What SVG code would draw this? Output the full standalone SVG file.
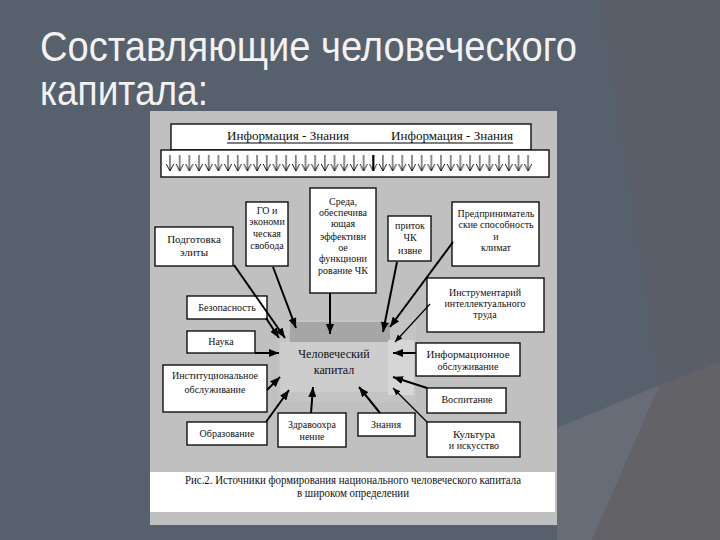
<svg xmlns="http://www.w3.org/2000/svg" width="720" height="540" viewBox="0 0 720 540">
<style>
.t{font-family:"Liberation Serif","Times New Roman","DejaVu Serif",serif;font-size:10px;fill:#111;text-anchor:middle}
.big{font-size:11px}
.cap{font-size:12px}
.box{fill:#fff;stroke:#000;stroke-width:1.3}
.c{stroke:#000;stroke-width:2;fill:none}
.thin{stroke:#000;stroke-width:1.2;fill:none}
.title{font-family:"Liberation Sans Narrow","Liberation Sans",Arial,sans-serif;font-size:42px;fill:#f2f2f2}
</style>
<defs>
<marker id="ah" viewBox="0 0 10 8" refX="10" refY="4" markerWidth="10" markerHeight="8" markerUnits="userSpaceOnUse" orient="auto">
<path d="M0,0 L10,4 L0,8 Z" fill="#000"/>
</marker>
<marker id="ahs" viewBox="0 0 10 8" refX="10" refY="4" markerWidth="8" markerHeight="6" markerUnits="userSpaceOnUse" orient="auto">
<path d="M0,0 L10,4 L0,8 Z" fill="#000"/>
</marker>
<pattern id="arr" patternUnits="userSpaceOnUse" x="165.2" y="150" width="9.68" height="27">
<path d="M4.8 5 V21 M1.2 14 L4.8 21 L8.4 14" stroke="#000" stroke-width="0.9" fill="none"/>
</pattern>
</defs>
<!-- slide background -->
<rect x="0" y="0" width="720" height="540" fill="#57606d"/>
<polygon points="600,0 720,0 720,362 660,385" fill="#595e68"/>
<polygon points="557,428 660,385 592,540 557,540" fill="#686c77"/>
<polygon points="660,385 720,362 720,540 592,540" fill="#636267"/>
<text class="title" x="40" y="61" textLength="537" lengthAdjust="spacingAndGlyphs">Составляющие человеческого</text>
<text class="title" x="40" y="105" textLength="168" lengthAdjust="spacingAndGlyphs">капитала:</text>
<!-- picture -->
<rect x="150" y="111" width="407" height="414" fill="#c0c0c0"/>
<rect x="150" y="472" width="405" height="40" fill="#fff"/>
<g id="center">
<rect x="278" y="320" width="138" height="82" fill="#c4c4c4"/>
<rect x="290" y="322" width="100" height="20" fill="#a6a6a6"/>
<rect x="388" y="340" width="26" height="55" fill="#d6d6d6"/>
<rect x="280" y="342" width="108" height="50" fill="#cdcdcd"/>
<text class="t cap" x="334" y="358">Человеческий</text>
<text class="t cap" x="334" y="374">капитал</text>
</g>
<g id="top-info">
<rect class="box" x="171" y="124" width="360" height="26"/>
<text class="t cap" x="288" y="140" textLength="122" lengthAdjust="spacingAndGlyphs">Информация - Знания</text>
<text class="t cap" x="452" y="140" textLength="122" lengthAdjust="spacingAndGlyphs">Информация  - Знания</text>
<line x1="227" y1="143" x2="513" y2="143" stroke="#000" stroke-width="1"/>
</g>
<g id="arrow-row">
<rect class="box" x="161" y="150" width="388" height="27"/>
<rect x="165" y="152" width="368" height="23" fill="url(#arr)"/>
<line x1="373.3" y1="155" x2="373.3" y2="171" stroke="#000" stroke-width="2"/>
</g>
<g id="n-elita"><rect class="box" x="155" y="227" width="78" height="39"/><text class="t big" x="194" y="243">Подготовка</text><text class="t big" x="194" y="256">элиты</text></g>
<g id="n-go"><rect class="box" x="246" y="202" width="42" height="64"/><text class="t" x="267" y="214">ГО и</text><text class="t" x="267" y="225">экономи</text><text class="t" x="267" y="237">ческая</text><text class="t" x="267" y="249">свобода</text></g>
<g id="n-sreda"><rect class="box" x="310" y="188" width="66" height="105"/><text class="t" x="343" y="205">Среда,</text><text class="t" x="343" y="216">обеспечива</text><text class="t" x="343" y="227">ющая</text><text class="t" x="343" y="240">эффективн</text><text class="t" x="343" y="251">ое</text><text class="t" x="343" y="262">функциони</text><text class="t" x="343" y="274">рование  ЧК</text></g>
<g id="n-pritok"><rect class="box" x="388" y="216" width="43" height="45"/><text class="t" x="410" y="229">приток</text><text class="t" x="410" y="241">ЧК</text><text class="t" x="410" y="254">извне</text></g>
<g id="n-pred"><rect class="box" x="452" y="202" width="87" height="64"/><text class="t" x="496" y="217">Предприниматель</text><text class="t" x="496" y="228">ские способность</text><text class="t" x="496" y="240">и</text><text class="t" x="496" y="251">климат</text></g>
<g id="n-instr"><rect class="box" x="427" y="278" width="117" height="54"/><text class="t" x="485" y="296">Инструментарий</text><text class="t" x="485" y="307">интеллектуального</text><text class="t" x="485" y="318">труда</text></g>
<g id="n-bezop"><rect class="box" x="187" y="296" width="80" height="23"/><text class="t" x="227" y="311">Безопасность</text></g>
<g id="n-nauka"><rect class="box" x="187" y="331" width="68" height="22"/><text class="t" x="221" y="345">Наука</text></g>
<g id="n-inst"><rect class="box" x="163" y="365" width="104" height="47"/><text class="t" x="215" y="379">Институциональное</text><text class="t" x="215" y="393">обслуживание</text></g>
<g id="n-obraz"><rect class="box" x="187" y="422" width="80" height="23"/><text class="t" x="227" y="437">Образование</text></g>
<g id="n-zdrav"><rect class="box" x="278" y="413" width="68" height="34"/><text class="t" x="312" y="428">Здравоохра</text><text class="t" x="312" y="440">нение</text></g>
<g id="n-znan"><rect class="box" x="358" y="413" width="57" height="23"/><text class="t" x="386" y="428">Знания</text></g>
<g id="n-kult"><rect class="box" x="427" y="422" width="93" height="35"/><text class="t big" x="474" y="438">Культура</text><text class="t" x="474" y="449">и искусство</text></g>
<g id="n-vosp"><rect class="box" x="427" y="388" width="79" height="25"/><text class="t" x="467" y="403">Воспитание</text></g>
<g id="n-inf"><rect class="box" x="416" y="343" width="104" height="33"/><text class="t big" x="468" y="358">Информационное</text><text class="t" x="468" y="370">обслуживание</text></g>
<g id="connectors">
<line class="c" x1="234" y1="265" x2="285" y2="338" marker-end="url(#ah)"/>
<line class="c" x1="273" y1="267" x2="296" y2="328" marker-end="url(#ah)"/>
<line class="c" x1="330" y1="293" x2="330" y2="334" marker-end="url(#ah)"/>
<line class="c" x1="397" y1="262" x2="383" y2="332" marker-end="url(#ah)"/>
<line class="c" stroke-width="1.5" x1="453" y1="242" x2="390" y2="327" marker-end="url(#ah)"/>
<line class="thin" x1="430" y1="304" x2="395" y2="342" marker-end="url(#ahs)"/>
<line class="c" x1="266" y1="318" x2="279" y2="338" marker-end="url(#ah)"/>
<line class="c" x1="255" y1="353" x2="279" y2="353" marker-end="url(#ah)"/>
<line class="c" x1="267" y1="390" x2="280" y2="377" marker-end="url(#ah)"/>
<line class="c" x1="266" y1="422" x2="289" y2="390" marker-end="url(#ah)"/>
<line class="c" x1="311" y1="413" x2="313" y2="387" marker-end="url(#ah)"/>
<line class="c" x1="380" y1="413" x2="359" y2="387" marker-end="url(#ah)"/>
<line class="thin" x1="427" y1="422" x2="393" y2="388" marker-end="url(#ahs)"/>
<line class="c" x1="427" y1="388" x2="393" y2="377" marker-end="url(#ah)"/>
<line class="c" x1="416" y1="353" x2="393" y2="353" marker-end="url(#ah)"/>
</g>
<g id="caption">
<text class="t cap" x="353" y="484" textLength="336" lengthAdjust="spacingAndGlyphs">Рис.2. Источники формирования национального человеческого капитала</text>
<text class="t cap" x="353" y="497" textLength="112" lengthAdjust="spacingAndGlyphs">в широком определении</text>
</g>
</svg>
